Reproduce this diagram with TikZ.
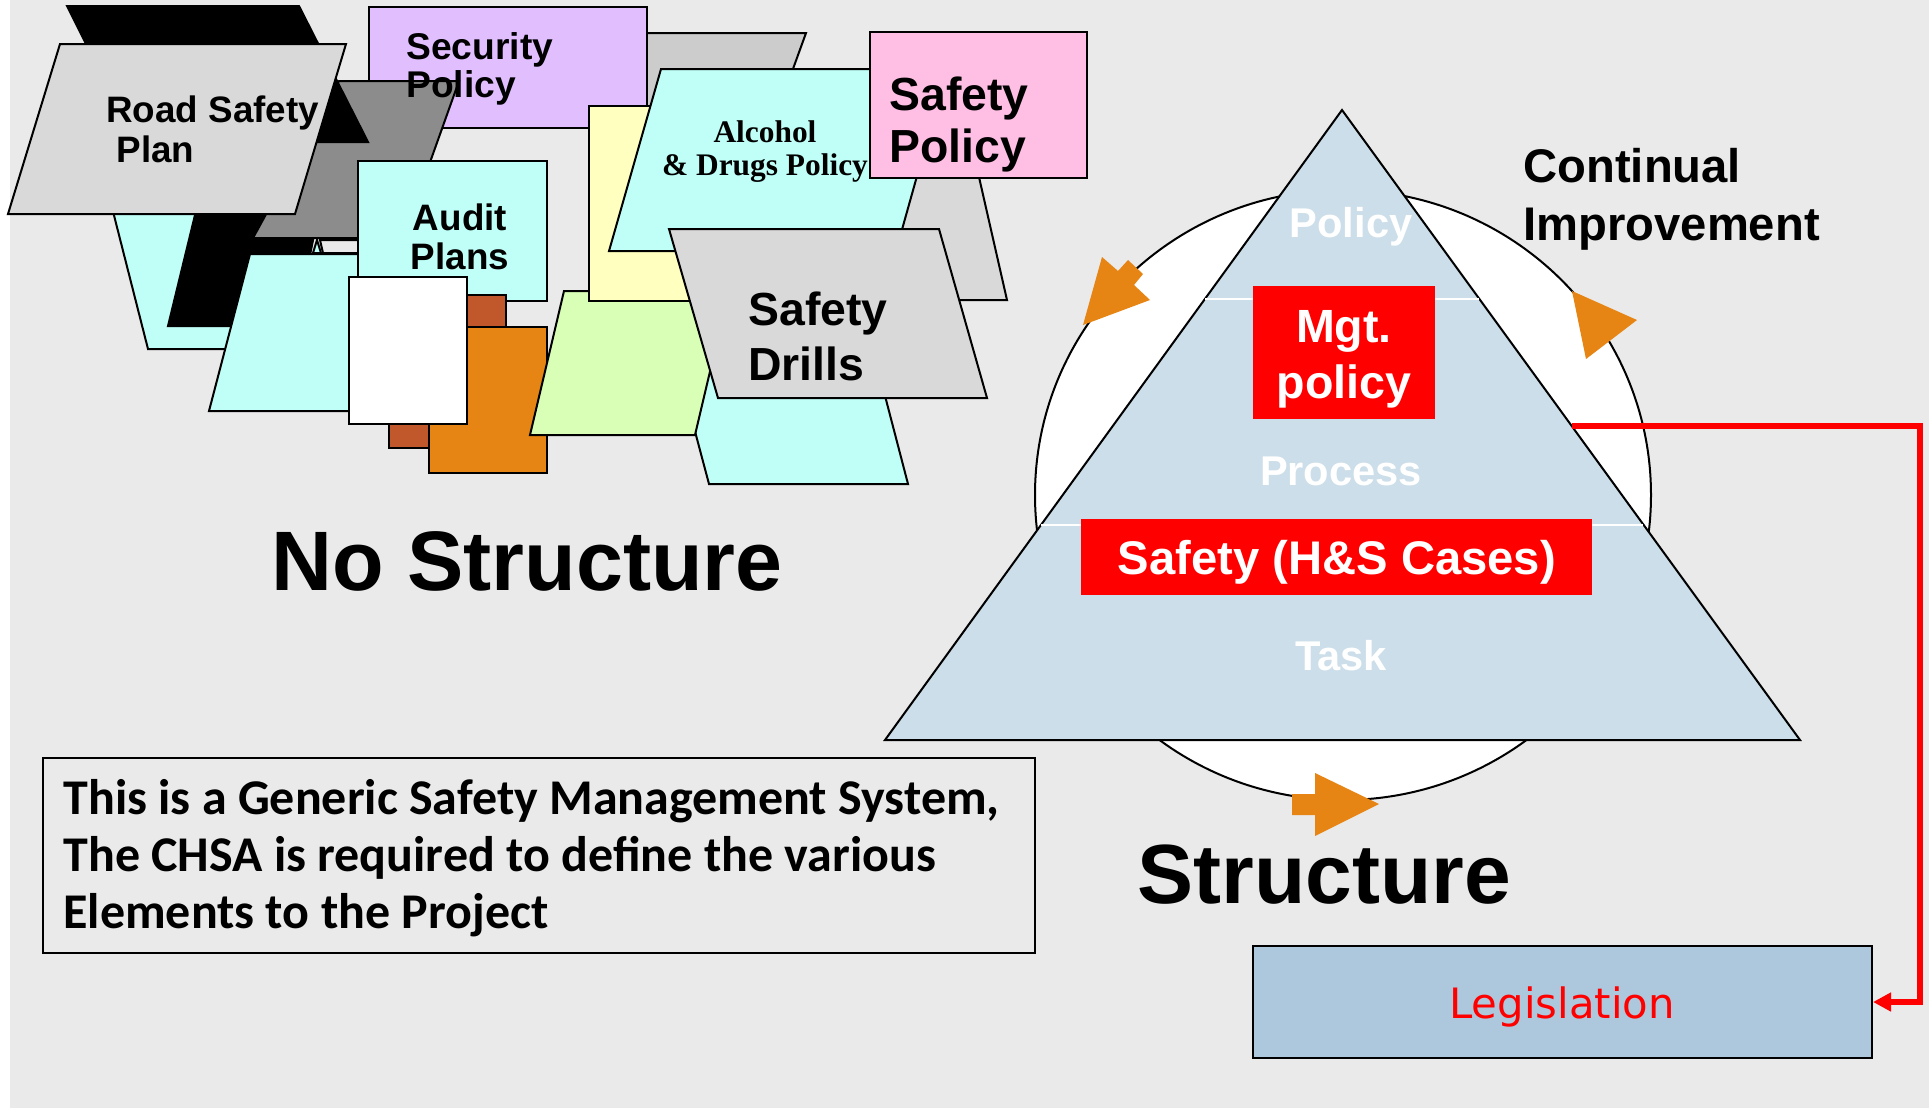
\documentclass[tikz,border=0pt]{standalone}
\usepackage{fontspec}
\setmainfont{Liberation Sans}
\newfontfamily\timesfont{Liberation Serif}
\newfontfamily\notefont{Carlito}
\newfontfamily\legfont{DejaVu Sans}
\usepackage{tikz}
\usetikzlibrary{arrows.meta,positioning,calc}
\usepackage{xcolor}
\definecolor{bggray}{RGB}{234,234,234}
\definecolor{sheetgray}{RGB}{217,217,217}
\definecolor{midgray}{RGB}{140,140,140}
\definecolor{palegray}{RGB}{204,204,204}
\definecolor{sheetcyan}{RGB}{191,255,248}
\definecolor{sheetlilac}{RGB}{225,191,255}
\definecolor{sheetpink}{RGB}{255,191,228}
\definecolor{sheetyellow}{RGB}{255,255,191}
\definecolor{sheetgreen}{RGB}{217,255,183}
\definecolor{sheetbrown}{RGB}{192,88,43}
\definecolor{sheetorange}{RGB}{230,132,20}
\definecolor{pyramid}{RGB}{204,222,233}
\definecolor{legblue}{RGB}{173,200,220}
\tikzstyle{sheet} = [draw=black, line width=1pt, line join=miter]
\tikzstyle{sheettext} = [inner sep=0pt, anchor=base west, align=left]
\tikzstyle{pyrtext} = [inner sep=0pt, anchor=base, align=center, text=white]
\tikzstyle{redline} = [line width=2.6pt, color=red, -{Triangle[length=9pt,width=9pt]}]
\tikzstyle{legbox} = [rectangle, draw=black, line width=1pt, fill=legblue, minimum width=309.5pt, minimum height=56pt]

\begin{document}
\begin{tikzpicture}[x=0.5pt,y=-0.5pt]
\useasboundingbox (0,0) rectangle (1929,1109);
\fill[bggray] (10,0) rectangle (1929,1108);

% loose sheets, back to front
\draw[sheet, fill=sheetcyan] (105,180) -- (250,180) -- (262,349) -- (148,349) -- cycle;
\draw[sheet, fill=black] (195,215) -- (318,215) -- (296,326) -- (168,326) -- cycle;
\draw[sheet, fill=bggray] (320,240) -- (370,240) -- (370,253) -- (323,253) -- cycle;
\draw[sheet, fill=sheetcyan] (313,253) -- (317,240) -- (321,253) -- cycle;
\draw[sheet, fill=palegray] (640,33) -- (806,33) -- (760,160) -- (600,160) -- cycle;
\draw[sheet, fill=sheetlilac] (369,7) rectangle (647,128);
\draw[sheet, fill=midgray] (339,81) -- (459,81) -- (403,238) -- (253,238) -- cycle;
\draw[sheet, fill=black] (67,6) -- (299,6) -- (368,142) -- (135,142) -- cycle;
\draw[sheet, fill=sheetgray] (60,44) -- (346,44) -- (295,214) -- (8,214) -- cycle;
\draw[sheet, fill=sheetcyan] (250,254) -- (400,254) -- (362,411) -- (209,411) -- cycle;
\draw[sheet, fill=sheetcyan] (358,161) rectangle (547,301);
\draw[sheet, fill=sheetbrown] (389,295) rectangle (506,448);
\draw[sheet, fill=sheetorange] (429,327) rectangle (547,473);
\draw[sheet, fill=white] (349,277) rectangle (467,424);
\draw[sheet, fill=sheetcyan] (660,300) -- (860,300) -- (908,484) -- (709,484) -- cycle;
\draw[sheet, fill=sheetgreen] (564,291) -- (729,291) -- (695,435) -- (530,435) -- cycle;
\draw[sheet, fill=sheetyellow] (589,106) rectangle (800,301);
\draw[sheet, fill=sheetgray] (890,120) -- (966,120) -- (1007,300) -- (800,300) -- cycle;
\draw[sheet, fill=sheetcyan] (661,69) -- (947,69) -- (896,251) -- (609,251) -- cycle;
\draw[sheet, fill=sheetpink] (870,32) rectangle (1087,178);
\draw[sheet, fill=sheetgray] (669,229) -- (939,229) -- (987,398) -- (718,398) -- cycle;

% sheet texts (base = last line)
\node[sheettext, font=\fontsize{18.4}{20}\selectfont\bfseries] (roadtxt) at (106,162) {Road Safety\\\ Plan};
\node[sheettext, font=\fontsize{18.6}{19}\selectfont\bfseries] (sectxt) at (406,97) {Security\\Policy};
\node[pyrtext, text=black, font=\fontsize{18.4}{19.5}\selectfont\bfseries] (audittxt) at (460,269) {Audit\\Plans};
\node[pyrtext, text=black, font=\timesfont\fontsize{15.7}{16.5}\selectfont\bfseries] (alctxt) at (765,175) {Alcohol\\\& Drugs Policy};
\node[sheettext, font=\fontsize{23.2}{26}\selectfont\bfseries] (poltxt) at (889,162) {Safety\\Policy};
\node[sheettext, font=\fontsize{23.2}{27.5}\selectfont\bfseries] (drilltxt) at (748,380) {Safety\\Drills};
\node[sheettext, font=\fontsize{42.2}{48}\selectfont\bfseries] (nostruct) at (271,590) {No Structure};

% note box
\draw[line width=1.2pt] (43,758) rectangle (1035,953);
\node[sheettext, font=\notefont\fontsize{25}{28.5}\selectfont\bfseries] (note) at (63,928)
  {This is a Generic Safety Management System,\\The CHSA is required to define the various\\Elements to the Project};

% pyramid
\draw[line width=1pt, fill=white] (1343,495) ellipse [x radius=308, y radius=305];
\draw[line width=1pt, fill=pyramid, line join=miter] (885,740) -- (1800,740) -- (1342,110) -- cycle;
\draw[white, line width=1pt] (1205,299) -- (1479,299);
\draw[white, line width=1pt] (1041,525) -- (1643,525);
\fill[red] (1253,286) rectangle (1435,419);
\fill[red] (1081,519) rectangle (1592,595);
\fill[sheetorange] (1083,325) -- (1102,257) -- (1118,271) -- (1128,260) -- (1143,274) -- (1134,285) -- (1150,300) -- cycle;
\fill[sheetorange] (1572,291) -- (1637,320) -- (1586,359) -- cycle;
\fill[sheetorange] (1292,794) -- (1315,794) -- (1315,773) -- (1379,804) -- (1315,836) -- (1315,815) -- (1292,815) -- cycle;
\node[pyrtext, font=\fontsize{20.8}{24}\selectfont\bfseries] (toppol) at (1351,237) {Policy};
\node[pyrtext, font=\fontsize{20.8}{24}\selectfont\bfseries] (process) at (1341,485) {Process};
\node[pyrtext, font=\fontsize{20.8}{24}\selectfont\bfseries] (task) at (1341,670) {Task};
\node[pyrtext, font=\fontsize{23.3}{28}\selectfont\bfseries] (mgt) at (1344,398) {Mgt.\\policy};
\node[pyrtext, font=\fontsize{23.6}{28}\selectfont\bfseries] (hscases) at (1337,574) {Safety (H\&S Cases)};
\node[sheettext, font=\fontsize{23.6}{29}\selectfont\bfseries] (contimp) at (1523,240) {Continual\\Improvement};
\node[sheettext, font=\fontsize{42}{48}\selectfont\bfseries] (struct) at (1137,903) {Structure};

% legislation
\node[legbox] (leg) at (1562.5,1002) {};
\node[pyrtext, text=red, font=\legfont\fontsize{20.9}{24}\selectfont] (legtxt) at (1562,1018) {Legislation};
\coordinate (tri-r) at (1572,426);
\draw[redline] (tri-r) -- ++(348,0) |- (leg.east);
\end{tikzpicture}
\end{document}
